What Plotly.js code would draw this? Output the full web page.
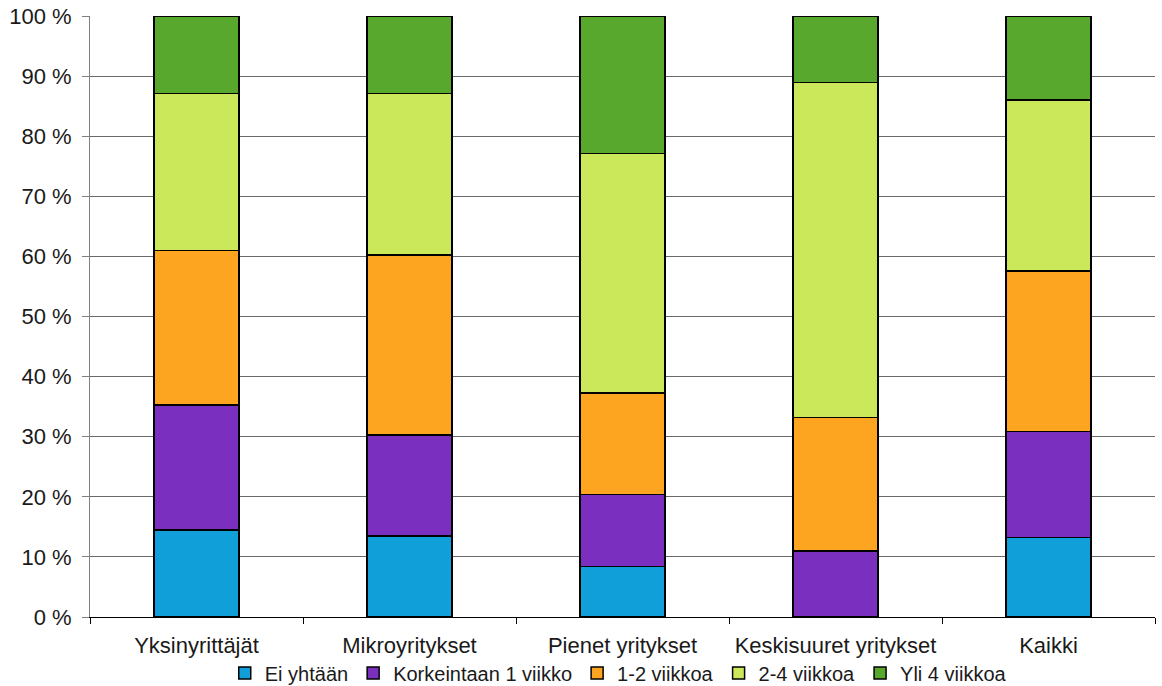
<!DOCTYPE html>
<html>
<head>
<meta charset="utf-8">
<script src="https://cdn.plot.ly/plotly-3.0.1.min.js"></script>
<style>html,body{margin:0;padding:0;background:#fff;}#chart{width:1162px;height:686px;}</style>
</head>
<body>
<div id="chart"></div>
<script>
const categories = ["Yksinyrittäjät", "Mikroyritykset", "Pienet yritykset", "Keskisuuret yritykset", "Kaikki"];
const seriesNames = ["Ei yhtään", "Korkeintaan 1 viikko", "1-2 viikkoa", "2-4 viikkoa", "Yli 4 viikkoa"];
const eiYhtaan = [14.5, 13.5, 8.4, 0, 13.2];
const korkeintaan1 = [20.8, 16.8, 12.0, 11.0, 17.7];
const viikkoa12 = [25.7, 29.9, 16.9, 22.2, 26.7];
const viikkoa24 = [26.1, 26.9, 39.8, 55.7, 28.4];
const yli4 = [12.9, 12.9, 22.9, 11.1, 14.0];
const yTicks = [0, 10, 20, 30, 40, 50, 60, 70, 80, 90, 100];

const colors = ["#119fd9", "#7b2fbf", "#fda421", "#cbe75a", "#58a82e"];
const values = [eiYhtaan, korkeintaan1, viikkoa12, viikkoa24, yli4];

const traces = values.map((v, i) => ({
  type: "bar",
  name: seriesNames[i],
  x: categories,
  y: v,
  marker: { color: colors[i], line: { color: "#000", width: 1.5 } },
  hoverinfo: "x+y+name"
}));

const layout = {
  width: 1162, height: 686,
  barmode: "stack",
  bargap: 0.6,
  margin: { l: 90, r: 7, t: 16, b: 69, autoexpand: false },
  paper_bgcolor: "#fff",
  plot_bgcolor: "#fff",
  font: { family: "Liberation Sans, Arial, sans-serif", size: 22, color: "#1a1a1a" },
  xaxis: {
    type: "category",
    showgrid: false,
    showline: true, linecolor: "#000", linewidth: 1,
    ticks: "outside", tickson: "boundaries", ticklen: 6, tickcolor: "#000",
    ticklabelstandoff: 9,
    tickfont: { size: 22, color: "#1a1a1a" },
    fixedrange: true
  },
  yaxis: {
    range: [0, 100],
    tickvals: yTicks,
    ticktext: yTicks.map(t => t + " %"),
    showgrid: true, gridcolor: "#6a6a6a", gridwidth: 1,
    showline: true, linecolor: "#808080", linewidth: 1,
    ticks: "outside", ticklen: 7, tickcolor: "#808080",
    ticklabelstandoff: 6,
    tickfont: { size: 22, color: "#1a1a1a" },
    zeroline: false,
    fixedrange: true
  },
  legend: {
    orientation: "h",
    x: 0.496, xanchor: "center",
    y: -0.093, yanchor: "middle",
    bgcolor: "rgba(0,0,0,0)",
    font: { size: 20, color: "#1a1a1a" },
    traceorder: "normal",
    itemwidth: 30,
    tracegroupgap: 0
  },
  showlegend: true
};

Plotly.newPlot("chart", traces, layout, { displayModeBar: false, staticPlot: true });
</script>
</body>
</html>
